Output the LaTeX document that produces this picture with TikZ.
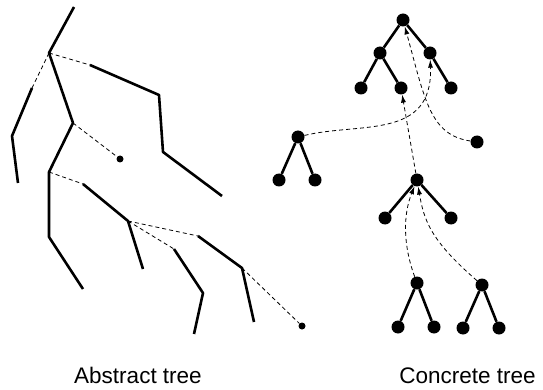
\documentclass[tikz,border=0pt]{standalone}
\usepackage{fontspec}
\setmainfont{Liberation Sans}
\usetikzlibrary{arrows.meta}
\begin{document}
\begin{tikzpicture}[x=1pt,y=-1pt,
  solidline/.style={line width=2.6pt,line join=round},
  dashline/.style={line width=0.8pt,dash pattern=on 4pt off 3pt},
  dasharrow/.style={dashline,-{Latex[length=8pt,width=5pt]}},
  bigdot/.style={circle,fill=black,inner sep=0pt,minimum size=13pt},
  smalldot/.style={circle,fill=black,inner sep=0pt,minimum size=7pt},
  lbl/.style={font=\fontsize{22.5}{26}\selectfont,anchor=base,inner sep=0pt}]
\useasboundingbox (0,0) rectangle (543,390);
% ---- abstract tree ----
\coordinate (a0) at (74,7);
\coordinate (a1) at (49,53);
\coordinate (a2) at (73,123);
\coordinate (a3) at (49,172);
\coordinate (a4) at (49,237);
\coordinate (a5) at (83,289);
\coordinate (b0) at (32,88);
\coordinate (b1) at (12,136);
\coordinate (b2) at (18,183);
\coordinate (c0) at (90,65);
\coordinate (c1) at (159,95);
\coordinate (c2) at (163,152);
\coordinate (c3) at (222,196);
\node[smalldot] (d) at (120,159) {};
\coordinate (e0) at (83,184);
\coordinate (e1) at (128,221);
\coordinate (e2) at (143,269);
\coordinate (f0) at (198,236);
\coordinate (f1) at (242,268);
\coordinate (f2) at (254,322);
\node[smalldot] (g) at (302,326) {};
\coordinate (h0) at (174,249);
\coordinate (h1) at (203,293);
\coordinate (h2) at (194,334);
\draw[solidline] (a0) -- (a1) -- (a2) -- (a3) -- (a4) -- (a5);
\draw[solidline] (b0) -- (b1) -- (b2);
\draw[solidline] (c0) -- (c1) -- (c2) -- (c3);
\draw[solidline] (e0) -- (e1) -- (e2);
\draw[solidline] (f0) -- (f1) -- (f2);
\draw[solidline] (h0) -- (h1) -- (h2);
\draw[dashline] (a1) -- (b0);
\draw[dashline] (a1) -- (c0);
\draw[dashline] (a2) -- (d);
\draw[dashline] (a3) -- (e0);
\draw[dashline] (e1) -- (f0);
\draw[dashline] (e1) -- (h0);
\draw[dashline] (f1) -- (g);
% ---- concrete tree ----
\node[bigdot] (r) at (403,20) {};
\node[bigdot] (lc) at (380,53) {};
\node[bigdot] (rc) at (430,53) {};
\node[bigdot] (t1) at (361,88) {};
\node[bigdot] (t2) at (401,88) {};
\node[bigdot] (t3) at (451,88) {};
\node[bigdot] (L) at (298,137) {};
\node[bigdot] (l1) at (279,180) {};
\node[bigdot] (l2) at (315,180) {};
\node[bigdot] (R) at (477,142) {};
\node[bigdot] (M) at (417,180) {};
\node[bigdot] (m1) at (385,218) {};
\node[bigdot] (m2) at (451,218) {};
\node[bigdot] (B1) at (417,283) {};
\node[bigdot] (p1) at (398,327) {};
\node[bigdot] (p2) at (434,327) {};
\node[bigdot] (B2) at (482,285) {};
\node[bigdot] (q1) at (463,328) {};
\node[bigdot] (q2) at (499,328) {};
\draw[solidline] (r) -- (lc);
\draw[solidline] (r) -- (rc);
\draw[solidline] (lc) -- (t1);
\draw[solidline] (lc) -- (t2);
\draw[solidline] (rc) -- (t3);
\draw[solidline] (L) -- (l1);
\draw[solidline] (L) -- (l2);
\draw[solidline] (M) -- (m1);
\draw[solidline] (M) -- (m2);
\draw[solidline] (B1) -- (p1);
\draw[solidline] (B1) -- (p2);
\draw[solidline] (B2) -- (q1);
\draw[solidline] (B2) -- (q2);
\draw[dasharrow] (L) .. controls (360,122) and (433,140) .. (rc);
\draw[dasharrow] (R) .. controls (430,135) and (425,100) .. (r);
\draw[dasharrow] (M) -- (t2);
\draw[dasharrow] (B1) .. controls (403,245) and (403,215) .. (M);
\draw[dasharrow] (B2) .. controls (430,240) and (424,220) .. (M);
% ---- labels ----
\node[lbl] (abs) at (138,383) {Abstract tree};
\node[lbl] (con) at (467.5,383) {Concrete tree};
\end{tikzpicture}
\end{document}
